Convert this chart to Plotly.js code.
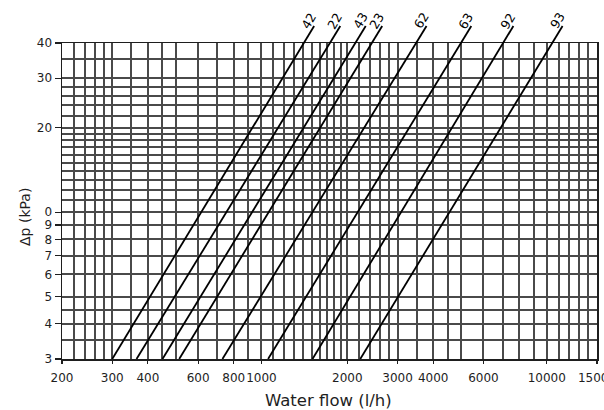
<!DOCTYPE html>
<html>
<head>
<meta charset="utf-8">
<script src="https://cdn.plot.ly/plotly-3.0.1.min.js"></script>
<style>html,body{margin:0;padding:0;background:#fff;overflow:hidden;}#chart{width:604px;height:410px;}</style>
</head>
<body>
<div id="chart"></div>
<script>
// ---- data ----
const seriesNames = ['42', '22', '43', '23', '62', '63', '92', '93'];
const dpLow = 3;      // kPa, bottom end of every line
const dpHigh = 46;    // kPa, top end of every line (above the frame)
const flowAtLow  = [300, 365, 450, 515, 730, 1055, 1510, 2220];     // l/h at 3 kPa
const flowAtHigh = [1530, 1890, 2320, 2650, 3790, 5440, 7640, 11360]; // l/h at 46 kPa

const xTickVals  = [200, 300, 400, 600, 800, 1000, 2000, 3000, 4000, 6000, 10000, 15000];
const xTickText  = ['200', '300', '400', '600', '800', '1000', '2000', '3000', '4000', '6000', '10000', '15000'];
const xGridVals  = [220, 240, 260, 280, 350, 450, 500, 700, 900,
                    1100, 1200, 1300, 1400, 1500, 1600, 1700, 1800, 1900,
                    2200, 2400, 2600, 2800, 3500, 4500, 5000,
                    7000, 8000, 9000, 11000, 12000, 13000, 14000];
const yTickVals  = [3, 4, 5, 6, 7, 8, 9, 10, 20, 30, 40];
const yTickText  = ['3', '4', '5', '6', '7', '8', '9', '0', '20', '30', '40'];
const yGridVals  = [3.5, 4.5, 11, 12, 13, 14, 15, 16, 17, 18, 19, 22, 24, 26, 28, 35];

const xMin = 200, xMax = 15000, yMin = 3, yMax = 40;

// ---- layout geometry ----
const W = 604, H = 410;
const mar = {l: 62, r: 7, t: 15, b: 51};
const frameTop = 43; // pixel row of the 40 kPa line
const plotH = H - mar.t - mar.b;
const yDomTop = (H - mar.b - frameTop) / plotH;
const yR = [Math.log10(yMin), Math.log10(yMax)];
const y2R = [yR[0], yR[0] + (yR[1] - yR[0]) / yDomTop];
const xR = [Math.log10(xMin), Math.log10(xMax)];

const ink = '#1e1e1e';
const gridInk = '#4a4a4a';
const tickFont = {family: 'DejaVu Sans', size: 12, color: ink};

// empty trace so the grid subplot (x, y) is drawn
const gridHolder = {type: 'scatter', mode: 'lines', x: [], y: [], xaxis: 'x', yaxis: 'y',
                    hoverinfo: 'skip', showlegend: false};

const traces = [gridHolder].concat(seriesNames.map((name, i) => ({
  type: 'scatter', mode: 'lines', name: name,
  x: [flowAtLow[i], flowAtHigh[i]],
  y: [dpLow, dpHigh],
  xaxis: 'x2', yaxis: 'y2',
  line: {color: '#000', width: 1.8},
  hoverinfo: 'skip', showlegend: false
})));

const annotations = seriesNames.map((name, i) => ({
  xref: 'x2', yref: 'y2',
  x: Math.log10(flowAtHigh[i]), y: Math.log10(dpHigh),
  text: name, showarrow: false, textangle: -59,
  xanchor: 'center', yanchor: 'middle',
  xshift: -5, yshift: 5,
  font: {family: 'DejaVu Sans', size: 12.5, color: '#000'}
}));

annotations.push({
  xref: 'paper', yref: 'paper', x: 0.5, y: 0,
  text: 'Water flow (l/h)', showarrow: false,
  xanchor: 'center', yanchor: 'top', yshift: -30, xshift: -1,
  font: {family: 'DejaVu Sans', size: 16.5, color: ink}
});
annotations.push({
  xref: 'paper', yref: 'paper', x: 0, y: 0,
  text: 'Δp (kPa)', showarrow: false, textangle: -90,
  xanchor: 'center', yanchor: 'middle', xshift: -37, yshift: (H - mar.b) - 217,
  font: {family: 'DejaVu Sans', size: 14, color: ink}
});

const layout = {
  width: W, height: H,
  margin: mar,
  paper_bgcolor: '#fff',
  plot_bgcolor: 'rgba(0,0,0,0)',
  showlegend: false,
  xaxis: {
    type: 'log', range: xR, domain: [0, 1], anchor: 'y',
    tickmode: 'array', tickvals: xTickVals, ticktext: xTickText, tickangle: 0,
    ticklabeloverflow: 'allow',
    ticks: 'outside', ticklen: 3, tickcolor: ink, tickwidth: 1.2,
    showgrid: true, gridcolor: gridInk, gridwidth: 2,
    showline: true, mirror: true, linecolor: ink, linewidth: 1.5,
    zeroline: false, tickfont: tickFont, ticklabelstandoff: 4,
    minor: {tickmode: 'array', tickvals: xGridVals, showgrid: true,
            gridcolor: gridInk, gridwidth: 2, ticks: ''}
  },
  yaxis: {
    type: 'log', range: yR, domain: [0, yDomTop], anchor: 'x',
    tickmode: 'array', tickvals: yTickVals, ticktext: yTickText, tickangle: 0,
    ticks: 'outside', ticklen: 6, tickcolor: ink, tickwidth: 1.2,
    showgrid: true, gridcolor: gridInk, gridwidth: 2,
    showline: true, mirror: true, linecolor: ink, linewidth: 1.5,
    zeroline: false, tickfont: tickFont,
    minor: {tickmode: 'array', tickvals: yGridVals, showgrid: true,
            gridcolor: gridInk, gridwidth: 2, ticks: ''}
  },
  xaxis2: {type: 'log', range: xR, domain: [0, 1], anchor: 'y2', visible: false},
  yaxis2: {type: 'log', range: y2R, domain: [0, 1], anchor: 'x2', visible: false},
  annotations: annotations
};

Plotly.newPlot('chart', traces, layout, {staticPlot: true, displayModeBar: false});
</script>
</body>
</html>
